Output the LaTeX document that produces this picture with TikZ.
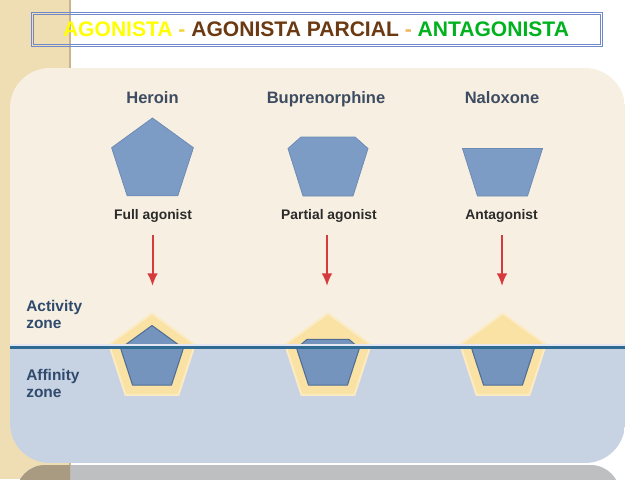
\documentclass[tikz,border=0pt]{standalone}
\usepackage{fontspec}
\setmainfont{Liberation Sans}
\usetikzlibrary{arrows.meta}
\definecolor{strip}{HTML}{EFDDB4}
\definecolor{stripedge}{HTML}{C9B48E}
\definecolor{grayband}{HTML}{BEBFC0}
\definecolor{graybanddark}{HTML}{A99B82}
\definecolor{cream}{HTML}{F7F0E2}
\definecolor{bluezone}{HTML}{C7D3E2}
\definecolor{lavender}{HTML}{E4E6F4}
\definecolor{zoneline}{HTML}{2E6B93}
\definecolor{drugfill}{HTML}{7C9CC6}
\definecolor{drugedge}{HTML}{6C8BB5}
\definecolor{druglow}{HTML}{7494BE}
\definecolor{druglowedge}{HTML}{4F6E96}
\definecolor{recfill}{HTML}{FAE2A4}
\definecolor{recedge}{HTML}{FCEBC2}
\definecolor{boxblue}{HTML}{7088CC}
\definecolor{tyellow}{HTML}{FFFF00}
\definecolor{tdash}{HTML}{F5D23C}
\definecolor{tbrown}{HTML}{6B3A12}
\definecolor{torange}{HTML}{F0B45A}
\definecolor{tgreen}{HTML}{00B21E}
\definecolor{namecol}{HTML}{3E4C61}
\definecolor{subcol}{HTML}{2B2B2B}
\definecolor{zonecol}{HTML}{2F4A6D}
\definecolor{arrowred}{HTML}{D63A3F}
\tikzset{
  namelabel/.style={anchor=base, inner sep=0pt, text=namecol, font=\bfseries\fontsize{12.4}{14}\selectfont},
  sublabel/.style={anchor=base, inner sep=0pt, text=subcol, font=\bfseries\fontsize{10.4}{12}\selectfont},
  zonelabel/.style={anchor=base west, inner sep=0pt, text=zonecol, font=\bfseries\fontsize{11.6}{12.75}\selectfont, align=left},
  drugtop/.style={fill=drugfill, draw=drugedge, line width=0.6pt, line join=round},
  druglo/.style={fill=druglow, draw=druglowedge, line width=0.8pt, line join=round},
  receptor/.style={fill=recfill, draw=recedge, line width=1.5pt, line join=round},
  redarrow/.style={draw=arrowred, line width=1.5pt, -{Latex[length=9.5pt,width=8pt]}},
}
\begin{document}
\begin{tikzpicture}[x=0.75pt,y=-0.75pt]
\useasboundingbox (0,0) rectangle (638,479);
\clip (0,0) rectangle (638,479);
\fill[white] (0,0) rectangle (638,479);
% left strip
\fill[strip] (0,0) rectangle (70,479);
\draw[stripedge, line width=1pt] (70,0) -- (70,479);
% gray band at the bottom
\fill[grayband, rounded corners=22] (16,465) rectangle (620,540);
\begin{scope}
  \clip (0,0) rectangle (70,479);
  \fill[graybanddark, rounded corners=22] (16,465) rectangle (620,540);
\end{scope}
% main panel
\begin{scope}
  \clip[rounded corners=30] (10,68) rectangle (625,463);
  \fill[cream] (10,68) rectangle (625,347.5);
  \fill[bluezone] (10,347.5) rectangle (625,463);
\end{scope}
% title box
\draw[boxblue, line width=0.7pt] (31.7,12.7) rectangle (602.3,46.2);
\draw[boxblue, line width=0.7pt] (33.6,14.6) rectangle (600.4,44.3);
\node[anchor=base, inner sep=0pt, font=\bfseries\fontsize{15.8}{18}\selectfont] (title) at (316,36)
  {\textcolor{tyellow}{AGONISTA} \textcolor{tdash}{-} \textcolor{tbrown}{AGONISTA PARCIAL} \textcolor{torange}{-} \textcolor{tgreen}{ANTAGONISTA}};
% drug names
\node[namelabel] (heroin) at (152.5,103) {Heroin};
\node[namelabel] (bup) at (326,103) {Buprenorphine};
\node[namelabel] (nal) at (502,103) {Naloxone};
% upper drug shapes
\begin{scope}[shift={(152.5,161)}]
  \filldraw[drugtop] (-90:43) -- (-18:43) -- (54:43) -- (126:43) -- (198:43) -- cycle;
\end{scope}
\begin{scope}[shift={(328,161.6)}]
  \filldraw[drugtop] (-27,-24.6) -- (27,-24.6) -- (40,-13.1) -- (25,34.4) -- (-25,34.4) -- (-40,-13.1) -- cycle;
\end{scope}
\begin{scope}[shift={(502.5,161.6)}]
  \filldraw[drugtop] (-40,-13.1) -- (40,-13.1) -- (25,34.4) -- (-25,34.4) -- cycle;
\end{scope}
% sub labels
\node[sublabel] (full) at (153,219) {Full agonist};
\node[sublabel] (partial) at (329,219) {Partial agonist};
\node[sublabel] (anta) at (501.5,219) {Antagonist};
% arrows
\coordinate (a1s) at (152.5,235); \coordinate (a1e) at (152.5,286);
\coordinate (a2s) at (327,235);   \coordinate (a2e) at (327,286);
\coordinate (a3s) at (502,235);   \coordinate (a3e) at (502,286);
\draw[redarrow] (a1s) -- (a1e);
\draw[redarrow] (a2s) -- (a2e);
\draw[redarrow] (a3s) -- (a3e);
% zone labels
\node[zonelabel] (activity) at (26,328) {Activity\\zone};
\node[zonelabel] (affinity) at (26,397) {Affinity\\zone};
% receptors with bound drugs
\begin{scope}[shift={(152,358.5)}]
  \filldraw[receptor] (-90:45) -- (-18:45) -- (54:45) -- (126:45) -- (198:45) -- cycle;
  \filldraw[druglo] (-90:33) -- (-18:33) -- (54:33) -- (126:33) -- (198:33) -- cycle;
\end{scope}
\begin{scope}[shift={(328,358.5)}]
  \filldraw[receptor] (-90:45) -- (-18:45) -- (54:45) -- (126:45) -- (198:45) -- cycle;
  \filldraw[druglo] (-21,-19.1) -- (21,-19.1) -- (31.4,-10.2) -- (19.4,26.7) -- (-19.4,26.7) -- (-31.4,-10.2) -- cycle;
\end{scope}
\begin{scope}[shift={(503,358.5)}]
  \filldraw[receptor] (-90:45) -- (-18:45) -- (54:45) -- (126:45) -- (198:45) -- cycle;
  \filldraw[druglo] (-31.4,-10.2) -- (31.4,-10.2) -- (19.4,26.7) -- (-19.4,26.7) -- cycle;
\end{scope}
% zone boundary
\draw[lavender, line width=1.1pt] (10,345) -- (625,345);
\draw[zoneline, line width=1.8pt] (10,347.5) -- (625,347.5);
\end{tikzpicture}
\end{document}
